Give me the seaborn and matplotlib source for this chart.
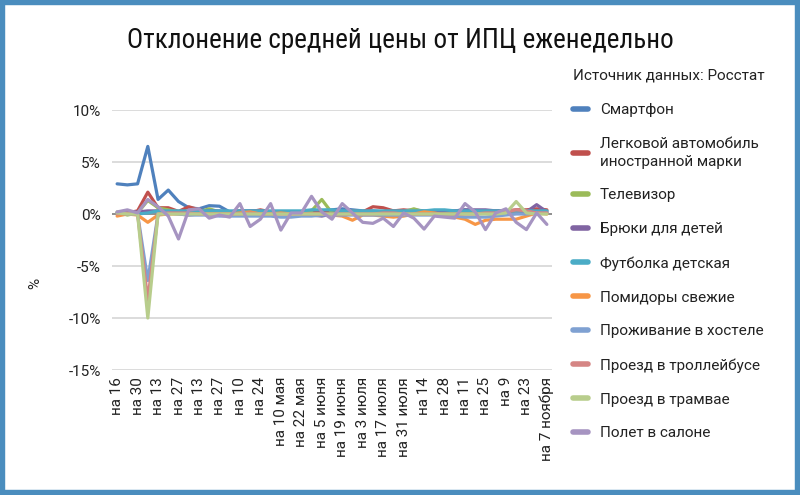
import numpy as np
import pandas as pd
import matplotlib
matplotlib.use("Agg")
import matplotlib.pyplot as plt
from matplotlib import font_manager
import seaborn as sns
from matplotlib.patches import Rectangle

# ---------------- data ----------------
dates = ["на 16", "на 23", "на 30", "на 6", "на 13", "на 20", "на 27", "на 5",
         "на 13", "на 20", "на 27", "на 3", "на 10", "на 17", "на 24", "на 30",
         "на 10 мая", "на 15 мая", "на 22 мая", "на 29 мая", "на 5 июня", "на 12 июня",
         "на 19 июня", "на 26 июня", "на 3 июля", "на 10 июля", "на 17 июля", "на 24 июля",
         "на 31 июля", "на 7", "на 14", "на 21", "на 28", "на 4", "на 11", "на 18",
         "на 25", "на 2", "на 9", "на 16", "на 23", "на 30", "на 7 ноября"]

smartphone = [2.9, 2.8, 2.9, 6.5, 1.4, 2.3, 1.2, 0.6, 0.5, 0.8, 0.75, 0.2, 0.3, 0.3, 0.3,
              0.2, 0.2, 0.1, 0.2, 0.2, 0.3, 0.4, 0.5, 0.4, 0.3, 0.3, 0.2, 0.3, 0.3, 0.4,
              0.3, 0.3, 0.3, 0.3, 0.4, 0.3, 0.3, 0.3, 0.3, 0.2, 0.3, 0.3, 0.3]
car = [0.1, 0.1, 0.3, 2.1, 0.6, 0.6, 0.25, 0.7, 0.4, 0.2, 0.1, 0.2, 0.3, 0.2, 0.4,
       0.2, 0.1, 0.2, 0.2, 0.1, 0.2, 0.2, 0.1, 0.3, 0.2, 0.7, 0.6, 0.3, 0.4, 0.3,
       0.2, 0.3, 0.2, 0.2, 0.3, 0.3, 0.2, 0.3, 0.3, 0.4, 0.4, 0.5, 0.4]
tv = [0.2, -0.1, 0.1, 1.3, 0.6, 0.4, 0.2, 0.1, 0.2, 0.5, 0.2, 0.1, 0.1, 0.2, 0.1,
      0.1, 0.1, 0.2, 0.2, 0.3, 1.4, 0.1, 0.1, 0.1, 0.1, 0.1, 0.2, 0.2, 0.2, 0.5,
      0.2, 0.2, 0.1, 0.1, 0.1, 0.1, 0.1, 0.1, 0.2, 0.2, 0.2, 0.1, 0.1]
pants = [0.1, 0.2, 0.2, 0.3, 0.3, 0.2, 0.2, 0.2, 0.2, 0.3, 0.3, 0.2, 0.2, 0.3, 0.3,
         0.2, 0.2, 0.1, 0.1, -0.1, -0.2, 0.0, 0.1, 0.1, 0.1, 0.1, 0.2, 0.2, 0.2, 0.2,
         0.2, 0.2, 0.3, 0.3, 0.4, 0.4, 0.4, 0.3, 0.3, 0.3, 0.2, 0.9, 0.2]
tshirt = [0.0, 0.0, 0.0, 0.1, 0.3, 0.3, 0.3, 0.3, 0.3, 0.3, 0.3, 0.3, 0.3, 0.3, 0.3,
          0.3, 0.3, 0.3, 0.3, 0.4, 0.4, 0.4, 0.3, 0.3, 0.3, 0.3, 0.3, 0.3, 0.3, 0.3,
          0.3, 0.4, 0.4, 0.3, 0.3, 0.3, 0.3, 0.3, 0.3, 0.3, 0.3, 0.3, 0.3]
tomatoes = [-0.2, 0.0, -0.1, -0.8, -0.1, 0.0, 0.0, -0.1, 0.0, 0.0, 0.0, 0.0, 0.1, 0.2, 0.0,
            0.0, 0.1, 0.0, 0.0, 0.0, 0.0, -0.1, -0.2, -0.6, -0.1, -0.1, -0.2, -0.3, -0.2, 0.0,
            0.2, 0.1, -0.1, -0.3, -0.5, -1.0, -0.6, -0.5, -0.5, -0.5, -0.2, 0.1, 0.0]
hostel = [0.1, 0.0, 0.0, -6.4, 0.0, 0.1, 0.0, -0.1, -0.1, -0.1, -0.2, -0.2, -0.2, -0.2, -0.2,
          -0.2, -0.3, -0.3, -0.2, -0.2, -0.1, -0.1, -0.1, -0.1, -0.1, -0.1, -0.1, -0.1, -0.1, -0.1,
          -0.1, -0.1, -0.2, -0.2, -0.3, -0.3, -0.3, -0.2, -0.1, 0.0, 0.0, 0.1, 0.1]
trolleybus = [0.0, 0.1, 0.0, -8.3, 0.0, 0.1, 0.1, 0.1, 0.0, 0.0, 0.0, 0.0, 0.0, 0.1, 0.0,
              0.0, 0.0, 0.0, 0.0, 0.0, 0.0, 0.0, 0.0, 0.0, 0.0, 0.0, 0.1, 0.1, 0.0, 0.0,
              0.0, 0.0, 0.0, 0.0, 0.0, 0.0, 0.1, 0.1, 0.2, 0.4, 0.3, 0.1, 0.1]
tram = [0.1, 0.0, 0.0, -10.0, 0.0, 0.0, 0.0, 0.0, 0.0, 0.0, 0.0, 0.0, 0.0, 0.0, 0.0,
        0.0, 0.0, 0.0, 0.0, 0.0, 0.0, 0.0, 0.0, 0.0, 0.0, 0.0, 0.0, 0.0, 0.0, 0.0,
        0.0, 0.0, 0.0, 0.0, 0.0, 0.0, 0.0, 0.0, 0.1, 1.2, 0.1, 0.0, 0.0]
flight = [0.2, 0.4, 0.1, 1.4, 0.7, -0.2, -2.4, 0.4, 0.5, -0.4, -0.1, -0.3, 1.0, -1.2, -0.5,
          1.0, -1.55, 0.1, 0.1, 1.7, 0.2, -0.5, 1.0, 0.1, -0.8, -0.9, -0.4, -1.2, 0.1, -0.4,
          -1.45, -0.2, -0.3, -0.4, 1.0, 0.2, -1.5, 0.1, 0.5, -0.8, -1.5, 0.1, -1.0]

series_names = ["Смартфон", "Легковой автомобиль\nиностранной марки", "Телевизор",
                "Брюки для детей", "Футболка детская", "Помидоры свежие",
                "Проживание в хостеле", "Проезд в троллейбусе", "Проезд в трамвае",
                "Полет в салоне"]
series_values = [smartphone, car, tv, pants, tshirt, tomatoes, hostel, trolleybus, tram, flight]
colors = ["#4F81BD", "#C0504D", "#9BBB59", "#8064A2", "#4BACC6", "#F79646",
          "#7FA1D2", "#D58584", "#B8CD8C", "#A694C1"]

y_ticks = [10, 5, 0, -5, -10, -15]

rows = []
for name, vals in zip(series_names, series_values):
    for i, v in enumerate(vals):
        rows.append({"idx": i, "value": v, "series": name})
df = pd.DataFrame(rows)

# ---------------- plot ----------------
sns.set_theme(style="white")
plt.rcParams["font.family"] = ["Roboto", "DejaVu Sans"]

available = {f.name for f in font_manager.fontManager.ttflist}
if "Roboto Condensed" in available:
    title_family, title_size = ["Roboto Condensed", "DejaVu Sans"], 19.5
else:
    title_family, title_size = ["Roboto", "DejaVu Sans"], 17.5

fig = plt.figure(figsize=(8.0, 4.95), dpi=100)
ax = fig.add_axes([112 / 800, 1 - 370 / 495, (552 - 112) / 800, (370 - 110) / 495])

for yv in y_ticks:
    if yv != 0:
        ax.axhline(yv, color="#D9D9D9", lw=1.3, zorder=0)
ax.axhline(0, color="#868686", lw=1.3, zorder=0.5)

sns.lineplot(data=df, x="idx", y="value", hue="series", hue_order=series_names,
             palette=dict(zip(series_names, colors)), linewidth=2.3, errorbar=None,
             ax=ax, legend=True, sort=False)

ax.set_xlim(-0.5, len(dates) - 0.5)
ax.set_ylim(-15, 10)
ax.set_yticks(y_ticks)
ax.set_yticklabels([f"{t}%" for t in y_ticks], fontsize=11, color="#222222")
ax.set_xticks(list(range(0, len(dates), 2)))
ax.set_xticklabels(dates[::2], rotation=90, fontsize=11, color="#222222")
ax.tick_params(axis="y", length=0, pad=8)
ax.tick_params(axis="x", length=0, pad=5)
ax.set_xlabel("")
ax.set_ylabel("")
for s in ax.spines.values():
    s.set_visible(False)

handles, labels = ax.get_legend_handles_labels()
ax.get_legend().remove()
leg = fig.legend(handles, labels, loc="upper left", bbox_to_anchor=(573 / 800, 1 - 69 / 495),
                 frameon=False, fontsize=11, title="Источник данных: Росстат",
                 title_fontsize=11, alignment="left", handlelength=0.95, handletextpad=0.8,
                 labelspacing=1.3, borderpad=0, borderaxespad=0)
for h in leg.legend_handles:
    h.set_linewidth(4.0)
leg.get_title().set_color("#222222")
for t in leg.get_texts():
    t.set_color("#222222")
    t.set_linespacing(1.35)

fig.text(0.5, 1 - 40 / 495, "Отклонение средней цены от ИПЦ еженедельно",
         ha="center", va="center", fontsize=title_size, color="#111111",
         family=title_family)
fig.text(35 / 800, 1 - 283 / 495, "%", rotation=90, ha="center", va="center",
         fontsize=11, color="#222222")

fig.patches.append(Rectangle((0, 0), 1, 1, transform=fig.transFigure, fill=False,
                             edgecolor="#4A8DBE", linewidth=7.5, zorder=10))

fig.savefig("out.png", dpi=100)
